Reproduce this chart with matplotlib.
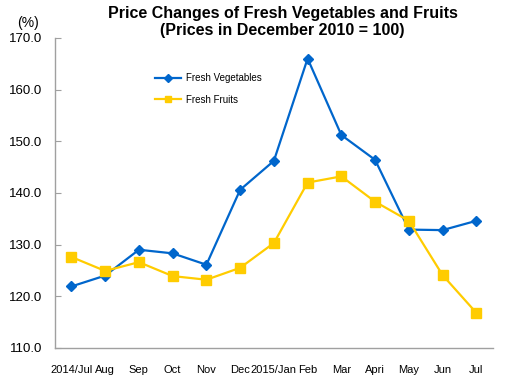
import matplotlib
matplotlib.use("Agg")
import matplotlib.pyplot as plt

months = ["2014/Jul", "Aug", "Sep", "Oct", "Nov", "Dec", "2015/Jan", "Feb",
          "Mar", "Apri", "May", "Jun", "Jul"]
vegetables = [121.9, 124.0, 129.0, 128.3, 126.1, 140.6, 146.2, 166.0,
              151.2, 146.4, 132.9, 132.8, 134.6]
fruits = [127.6, 124.9, 126.6, 123.9, 123.2, 125.5, 130.3, 142.0,
          143.2, 138.3, 134.6, 124.1, 116.8]
yticks = [110, 120, 130, 140, 150, 160, 170]

plt.rcParams['font.family'] = ['Liberation Sans', 'DejaVu Sans']

fig = plt.figure(figsize=(5.10, 3.79), dpi=100)
ax = fig.add_axes([0.107, 0.082, 0.860, 0.818])

x = list(range(len(months)))
ax.plot(x, vegetables, color="#0066CC", lw=1.6, marker="D", ms=5.5,
        label="Fresh Vegetables")
ax.plot(x, fruits, color="#FFCC00", lw=1.6, marker="s", ms=7,
        label="Fresh Fruits")

ax.set_xlim(-0.5, len(months) - 0.5)
ax.set_ylim(110, 170)
ax.set_yticks(yticks)
ax.set_yticklabels([f"{v:.1f}" for v in yticks], fontsize=9.5)
ax.set_xticks(x)
ax.set_xticklabels(months, fontsize=8)
ax.tick_params(axis="x", length=0, pad=12)
ax.tick_params(axis="y", length=4, color="#A0A0A0", direction="in", pad=9)

for s in ["top", "right"]:
    ax.spines[s].set_visible(False)
for s in ["left", "bottom"]:
    ax.spines[s].set_color("#A0A0A0")
    ax.spines[s].set_linewidth(1.0)

leg = ax.legend(loc="upper left", bbox_to_anchor=(0.21, 0.915), frameon=False,
                fontsize=7, handlelength=2.6, labelspacing=1.2,
                handletextpad=0.5)
for h in leg.legend_handles:
    h.set_markersize(4.5)

fig.text(0.554, 0.985, "Price Changes of Fresh Vegetables and Fruits\n(Prices in December 2010 = 100)",
         ha="center", va="top", fontsize=11.5, fontweight="bold", linespacing=1.2)
fig.text(0.055, 0.94, "(%)", ha="center", va="center", fontsize=10)

fig.savefig("out.png", dpi=100)
